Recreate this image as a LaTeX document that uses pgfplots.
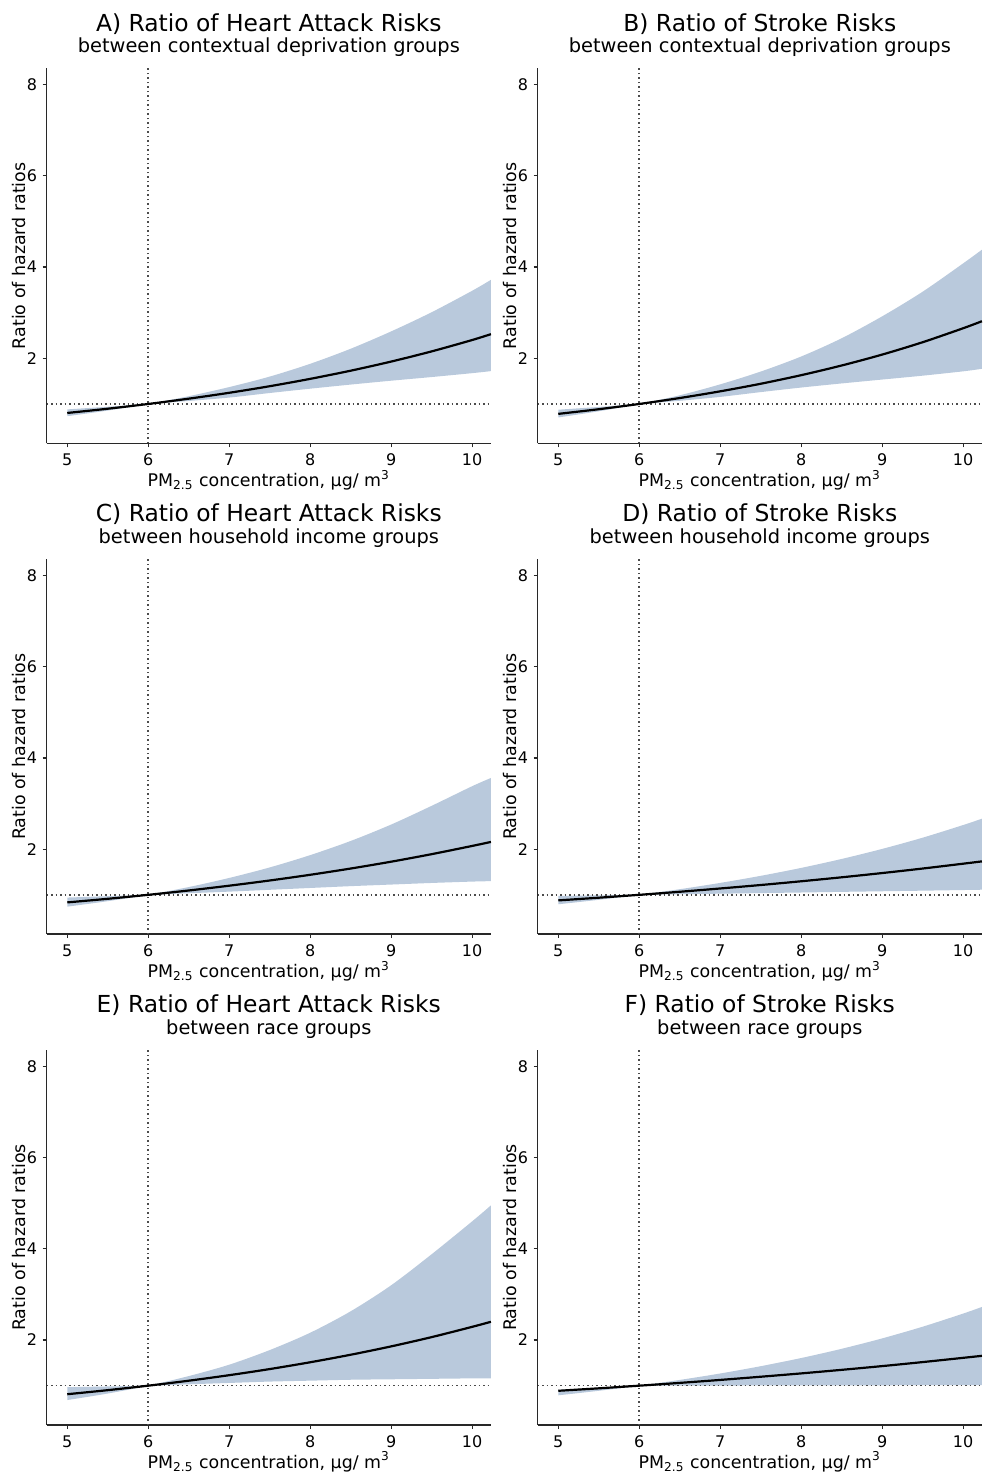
\documentclass[border=0pt]{standalone}
\usepackage{fontspec}
\setmainfont{DejaVu Sans}
\usepackage{pgfplots}
\pgfplotsset{compat=1.18}
\usepackage{pgfplotstable}
\usepgfplotslibrary{fillbetween}
\definecolor{bandc}{RGB}{185,201,220}
\definecolor{spine}{RGB}{40,40,40}
\definecolor{dotc}{RGB}{75,75,75}

\pgfplotstableread{
x mid up lo
5 0.803 0.733 0.881
5.5 0.896 0.856 0.939
6 1 1 1
6.5 1.116 1.17 1.066
7 1.245 1.37 1.14
7.5 1.389 1.60 1.24
8 1.550 1.88 1.335
8.5 1.729 2.21 1.425
9 1.929 2.59 1.51
9.5 2.152 3.01 1.59
10 2.401 3.48 1.675
10.232 2.53 3.72 1.72
}\dataA
\pgfplotstableread{
x mid up lo
5 0.783 0.705 0.874
5.5 0.885 0.840 0.935
6 1 1 1
6.5 1.130 1.19 1.07
7 1.277 1.43 1.155
7.5 1.443 1.71 1.26
8 1.631 2.04 1.36
8.5 1.843 2.44 1.45
9 2.082 2.92 1.535
9.5 2.353 3.46 1.62
10 2.659 4.08 1.715
10.232 2.813 4.38 1.77
}\dataB
\pgfplotstableread{
x mid up lo
5 0.834 0.741 0.94
5.5 0.913 0.861 0.97
6 1 1 1
6.5 1.095 1.17 1.035
7 1.200 1.37 1.07
7.5 1.314 1.60 1.11
8 1.439 1.87 1.15
8.5 1.576 2.18 1.19
9 1.726 2.54 1.225
9.5 1.891 2.95 1.26
10 2.071 3.38 1.29
10.232 2.159 3.56 1.30
}\dataC
\pgfplotstableread{
x mid up lo
5 0.878 0.793 0.975
5.5 0.937 0.891 0.988
6 1 1 1
6.5 1.067 1.123 1.013
7 1.139 1.261 1.025
7.5 1.215 1.416 1.038
8 1.297 1.590 1.051
8.5 1.384 1.786 1.065
9 1.477 2.006 1.078
9.5 1.576 2.252 1.091
10 1.682 2.529 1.105
10.232 1.733 2.668 1.112
}\dataD
\pgfplotstableread{
x mid up lo
5 0.813 0.685 0.966
5.5 0.902 0.828 0.983
6 1 1 1
6.5 1.109 1.21 1.03
7 1.230 1.46 1.06
7.5 1.364 1.78 1.09
8 1.513 2.16 1.11
8.5 1.678 2.63 1.13
9 1.861 3.20 1.14
9.5 2.064 3.88 1.15
10 2.289 4.60 1.16
10.232 2.400 4.95 1.16
}\dataE
\pgfplotstableread{
x mid up lo
5 0.888 0.789 0.905
5.5 0.942 0.888 0.955
6 1 1 1
6.5 1.061 1.126 1.002
7 1.126 1.267 1.003
7.5 1.196 1.427 1.005
8 1.269 1.606 1.006
8.5 1.347 1.808 1.008
9 1.429 2.036 1.009
9.5 1.517 2.292 1.011
10 1.610 2.580 1.012
10.232 1.654 2.725 1.013
}\dataF

\pgfplotsset{panel/.style={
  scale only axis, width=222.1pt, height=187.5pt,
  xmin=4.746, xmax=10.232, ymin=0.138, ymax=8.355,
  axis x line*=bottom, axis y line*=left,
  axis line style={-, draw=spine, line width=0.75pt},
  xtick={5,6,7,8,9,10}, ytick={2,4,6,8},
  tick align=outside, major tick length=2pt,
  tick style={draw=spine, line width=0.6pt},
  ticklabel style={font=\fontsize{8}{9.5}\selectfont},
  /pgf/number format/assume math mode=true,
  xticklabel style={anchor=base, yshift=-9pt},
  yticklabel style={anchor=east, inner sep=0pt, xshift=-2.6pt},
  clip=false,
  anchor=south west,
}}

\newcommand{\panel}[5]{%
\begin{axis}[panel, at={(#1,#2)}]
\addplot[name path=up, draw=none, smooth] table[x=x,y=up]{#3};
\addplot[name path=lo, draw=none, smooth] table[x=x,y=lo]{#3};
\addplot[fill=bandc, draw=none] fill between[of=up and lo];
\addplot[dotc, line width=0.75pt, dash pattern=on 0.7pt off 1.55pt] coordinates {(6,0.138) (6,8.355)};
\addplot[dotc, line width=0.75pt, dash pattern=on 0.7pt off 1.55pt] coordinates {(4.746,1) (10.232,1)};
\addplot[black, line width=1.1pt, smooth] table[x=x,y=mid]{#3};
\node[anchor=base, yshift=18.65pt, font=\fontsize{11.7}{14}\selectfont] at (rel axis cs:0.5,1) {#4};
\node[anchor=base, yshift=7.7pt, font=\fontsize{9.7}{11.5}\selectfont] at (rel axis cs:0.5,1) {#5};
\node[overlay, anchor=base, yshift=-21.8pt, font=\fontsize{8.7}{10.5}\selectfont] at (rel axis cs:0.5,0) {PM\textsubscript{2.5} concentration, µg/ m\textsuperscript{3}};
\node[xshift=-10.4pt, rotate=90, anchor=base, font=\fontsize{8.7}{10.5}\selectfont] at (rel axis cs:0,0.5) {Ratio of hazard ratios};
\end{axis}}

\begin{document}
\begin{tikzpicture}
\path (0,0) rectangle (491pt,-736.5pt);
\panel{23.35pt}{-221.65pt}{\dataA}{A) Ratio of Heart Attack Risks}{between contextual deprivation groups}
\panel{268.85pt}{-221.65pt}{\dataB}{B) Ratio of Stroke Risks}{between contextual deprivation groups}
\panel{23.35pt}{-467.075pt}{\dataC}{C) Ratio of Heart Attack Risks}{between household income groups}
\panel{268.85pt}{-467.075pt}{\dataD}{D) Ratio of Stroke Risks}{between household income groups}
\panel{23.35pt}{-712.5pt}{\dataE}{E) Ratio of Heart Attack Risks}{between race groups}
\panel{268.85pt}{-712.5pt}{\dataF}{F) Ratio of Stroke Risks}{between race groups}
\end{tikzpicture}
\end{document}
